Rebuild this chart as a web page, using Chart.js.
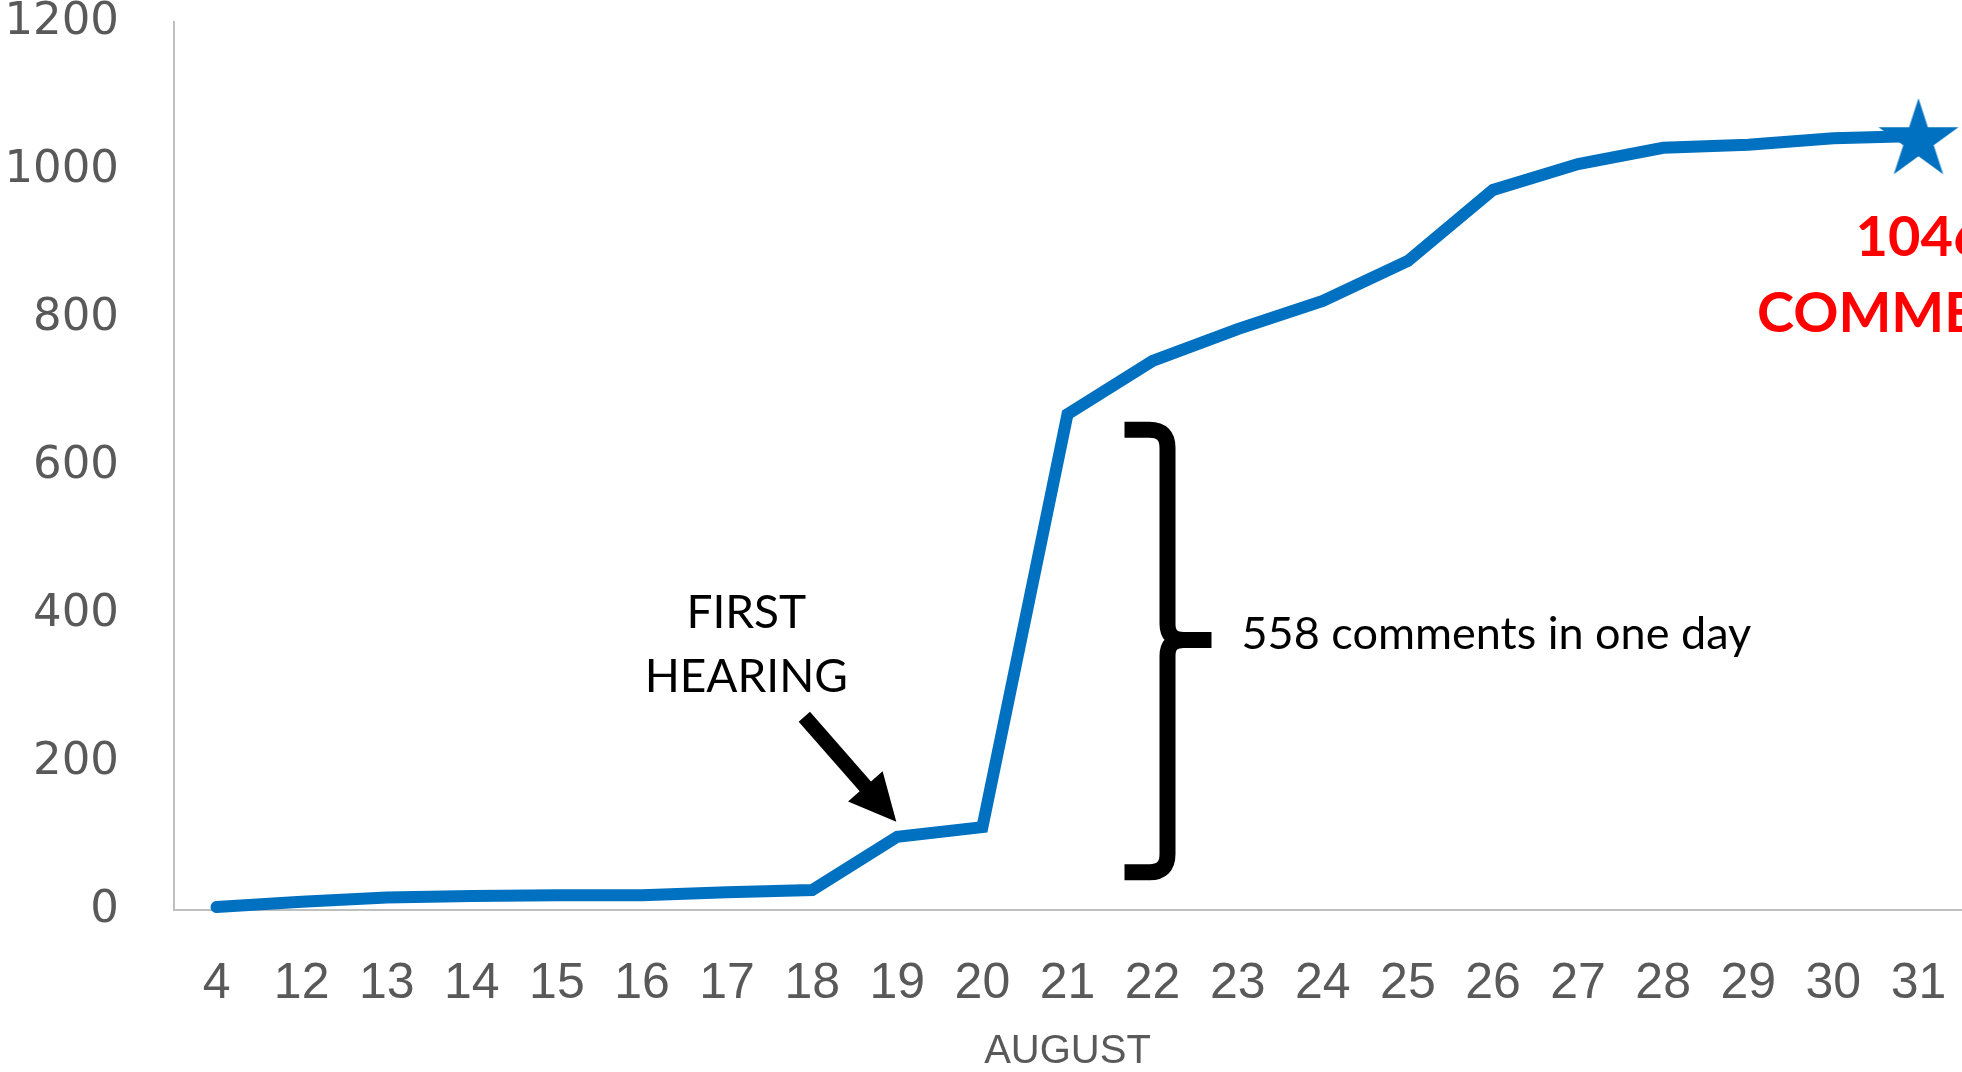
<!DOCTYPE html>
<html>
<head>
<meta charset="utf-8">
<script src="https://cdn.jsdelivr.net/npm/chart.js@4.4.0/dist/chart.umd.min.js"></script>
<style>
  html, body { margin: 0; padding: 0; background: #fff; }
  #wrap { width: 1962px; height: 1072px; }
</style>
</head>
<body>
<div id="wrap"><canvas id="lineChart" width="1962" height="1072"></canvas></div>
<script>
// data
const days = ['4', '12', '13', '14', '15', '16', '17', '18', '19', '20', '21', '22', '23', '24', '25', '26', '27', '28', '29', '30', '31'];
const comments = [4, 11, 17, 19, 20, 20, 24, 27, 99, 112, 670, 742, 785, 823, 877, 973, 1008, 1030, 1034, 1043, 1046];
const yTicks = [0, 200, 400, 600, 800, 1000, 1200];
const axisTitle = 'AUGUST';
const hearingText = ['FIRST', 'HEARING'];
const jumpText = '558 comments in one day';
const totalText = ['1046', 'COMMENTS'];

const blue = '#0070C0';
const gray = '#595959';
const last = comments.length - 1;

// filled 5 point star for the final point
function makeStar(R, r, color) {
  const c = document.createElement('canvas');
  c.width = c.height = Math.ceil(R * 2 + 4);
  const g = c.getContext('2d');
  const cx = c.width / 2, cy = c.height / 2 + R * 0.1;
  g.beginPath();
  for (let i = 0; i < 10; i++) {
    const a = -Math.PI / 2 + i * Math.PI / 5;
    const rad = i % 2 === 0 ? R : r;
    g.lineTo(cx + rad * Math.cos(a), cy + rad * Math.sin(a));
  }
  g.closePath();
  g.fillStyle = color;
  g.fill();
  return c;
}
const star = makeStar(42, 16, blue);

// arrow, brace and text notes, placed from the scales
const notes = {
  id: 'notes',
  afterDraw(chart) {
    const ctx = chart.ctx;
    const x = chart.scales.x, y = chart.scales.y;
    const px = i => x.getPixelForValue(i);
    const py = v => y.getPixelForValue(v);
    ctx.save();
    ctx.fillStyle = '#000';
    ctx.strokeStyle = '#000';

    // FIRST HEARING
    ctx.font = '46px Lato';
    ctx.textAlign = 'center';
    ctx.textBaseline = 'alphabetic';
    const hx = px(8) - 151;
    ctx.fillText(hearingText[0], hx, py(comments[8]) - 209);
    ctx.fillText(hearingText[1], hx, py(comments[8]) - 145);

    // arrow
    const tip = [px(8) - 1, py(comments[8]) - 15];
    const tail = [tip[0] - 92, tip[1] - 105];
    const dx = tip[0] - tail[0], dy = tip[1] - tail[1];
    const L = Math.hypot(dx, dy);
    const u = [dx / L, dy / L], n = [-u[1], u[0]];
    const base = [tip[0] - 47 * u[0], tip[1] - 47 * u[1]];
    const pt = (p, k) => [p[0] + n[0] * k, p[1] + n[1] * k];
    const poly = [pt(tail, 7.5), pt(base, 7.5), pt(base, 23), tip, pt(base, -23), pt(base, -7.5), pt(tail, -7.5)];
    ctx.beginPath();
    poly.forEach((p, i) => i ? ctx.lineTo(p[0], p[1]) : ctx.moveTo(p[0], p[1]));
    ctx.closePath();
    ctx.fill();

    // brace
    const bx0 = px(10) + 57, bx1 = px(10) + 100, bx2 = px(10) + 144;
    const top = py(649), mid = py(365), bot = py(51);
    ctx.lineWidth = 16;
    ctx.lineCap = 'butt';
    ctx.lineJoin = 'round';
    ctx.beginPath();
    ctx.moveTo(bx0, top);
    ctx.lineTo(bx1 - 18, top);
    ctx.quadraticCurveTo(bx1, top, bx1, top + 18);
    ctx.lineTo(bx1, mid - 16);
    ctx.quadraticCurveTo(bx1, mid, bx1 + 16, mid);
    ctx.lineTo(bx2, mid);
    ctx.moveTo(bx2, mid);
    ctx.lineTo(bx1 + 16, mid);
    ctx.quadraticCurveTo(bx1, mid, bx1, mid + 16);
    ctx.lineTo(bx1, bot - 18);
    ctx.quadraticCurveTo(bx1, bot, bx1 - 18, bot);
    ctx.lineTo(bx0, bot);
    ctx.stroke();

    ctx.font = '45px Lato';
    ctx.textAlign = 'left';
    ctx.fillText(jumpText, px(10) + 174, py(353));

    // total label under the star
    ctx.fillStyle = '#FF0000';
    ctx.font = 'bold 56px Lato';
    ctx.textAlign = 'center';
    const sx = px(last) + 2;
    ctx.fillText(totalText[0], sx, py(comments[last]) + 120);
    ctx.fillText(totalText[1], sx, py(comments[last]) + 196);
    ctx.restore();
  }
};

new Chart(document.getElementById('lineChart'), {
  type: 'line',
  data: {
    labels: days,
    datasets: [{
      data: comments,
      borderColor: blue,
      backgroundColor: blue,
      borderWidth: 12,
      borderCapStyle: 'round',
      tension: 0,
      clip: false,
      pointRadius: comments.map((v, i) => i === last ? 40 : 0),
      pointHoverRadius: 0,
      pointStyle: c => c.dataIndex === last ? star : 'circle'
    }]
  },
  options: {
    responsive: false,
    animation: false,
    events: [],
    layout: { autoPadding: false, padding: { top: 22, right: 1, left: 0, bottom: 0 } },
    plugins: { legend: { display: false }, tooltip: { enabled: false } },
    scales: {
      x: {
        offset: true,
        grid: { display: false, drawTicks: false },
        border: { display: true, color: '#BFBFBF', width: 2 },
        ticks: {
          color: gray,
          padding: 44,
          maxRotation: 0,
          autoSkip: false,
          font: { family: '"Liberation Sans Narrow", "Liberation Sans", sans-serif', size: 50 }
        },
        title: {
          display: true,
          text: axisTitle,
          color: gray,
          padding: 0,
          font: { family: '"Liberation Sans Narrow", "Liberation Sans", sans-serif', size: 40, lineHeight: 1 }
        },
        afterFit: s => { s.height = 162; s.paddingLeft = 0; s.paddingRight = 0; }
      },
      y: {
        min: 0,
        max: 1200,
        afterBuildTicks: s => { s.ticks = yTicks.map(v => ({ value: v })); },
        grid: { display: false, drawTicks: false },
        border: { display: true, color: '#BFBFBF', width: 2 },
        ticks: {
          color: gray,
          padding: 55,
          callback: v => String(v),
          font: { family: '"DejaVu Sans", sans-serif', size: 45 }
        },
        afterFit: s => { s.width = 174; s.paddingTop = 0; s.paddingBottom = 0; }
      }
    }
  },
  plugins: [notes]
});
</script>
</body>
</html>
